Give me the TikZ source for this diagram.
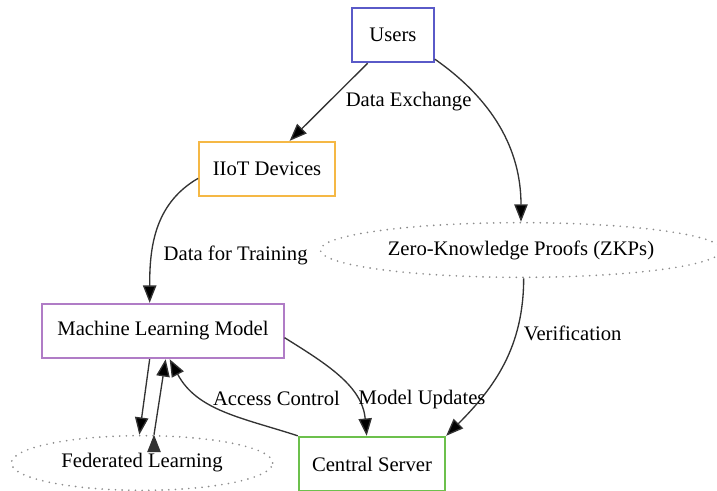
\documentclass[tikz,border=0pt]{standalone}
\usepackage{fontspec}
\setmainfont{Liberation Serif}
\usetikzlibrary{arrows.meta,shapes.geometric}
\definecolor{userblue}{HTML}{5A5AC8}
\definecolor{iotorange}{HTML}{F5B845}
\definecolor{mlpurple}{HTML}{B07CC6}
\definecolor{servergreen}{HTML}{6CC04C}

\begin{document}
\begin{tikzpicture}[x=0.75pt,y=-0.75pt,
        font=\fontsize{15.5}{18}\selectfont,
        box/.style={draw,rectangle,line width=1.3pt,minimum height=41pt,inner sep=0pt},
        cloud/.style={ellipse,draw=gray!90,line width=1.4pt,dash pattern=on 0pt off 5pt,line cap=round,minimum height=41pt,inner sep=0pt},
        flow/.style={-{Triangle[length=13pt,width=10pt]},line width=1pt,draw=black!80}]
    \useasboundingbox (0,0) rectangle (717,490);

    \node[box,draw=userblue,minimum width=61.5pt] (users) at (393,35) {Users};
    \node[box,draw=iotorange,minimum width=102pt] (iiot) at (267,169) {IIoT Devices};
    \node[cloud,minimum width=301pt] (zkp) at (521,250) {Zero-Knowledge Proofs (ZKPs)};
    \node[box,draw=mlpurple,minimum width=181pt] (ml) at (163,331) {Machine Learning Model};
    \node[cloud,minimum width=196pt] (fl) at (142,463) {Federated Learning};
    \node[box,draw=servergreen,minimum width=110pt] (server) at (372,464) {Central Server};

    \path[flow] ([xshift=-19pt]users.south) edge node[right=9pt] {Data Exchange} ([xshift=17pt]iiot.north)
        ([yshift=3pt]users.south east) edge[out=-35,in=90] (zkp.north)
        ([yshift=-7pt]iiot.west) edge[out=210,in=90] node[right=5pt,pos=0.68] {Data for Training} ([xshift=-10pt]ml.north)
        ([xshift=2pt]zkp.south) edge[out=-90,in=45] node[right=2pt,pos=0.3] {Verification} (server.north east)
        ([yshift=-5pt]ml.east) edge[out=-32,in=95] node[right=-2pt,pos=0.72] {Model Updates} ([xshift=-4pt]server.north)
        (server.north west) edge[out=162,in=-62] node[anchor=south west,pos=0.6,xshift=-2pt,yshift=-6pt] {Access Control} ([xshift=5pt]ml.south)
        ([xshift=-10pt]ml.south) edge ([xshift=-2pt]fl.north)
        ([xshift=9pt]fl.north) edge ([xshift=2pt]ml.south);
\end{tikzpicture}
\end{document}
